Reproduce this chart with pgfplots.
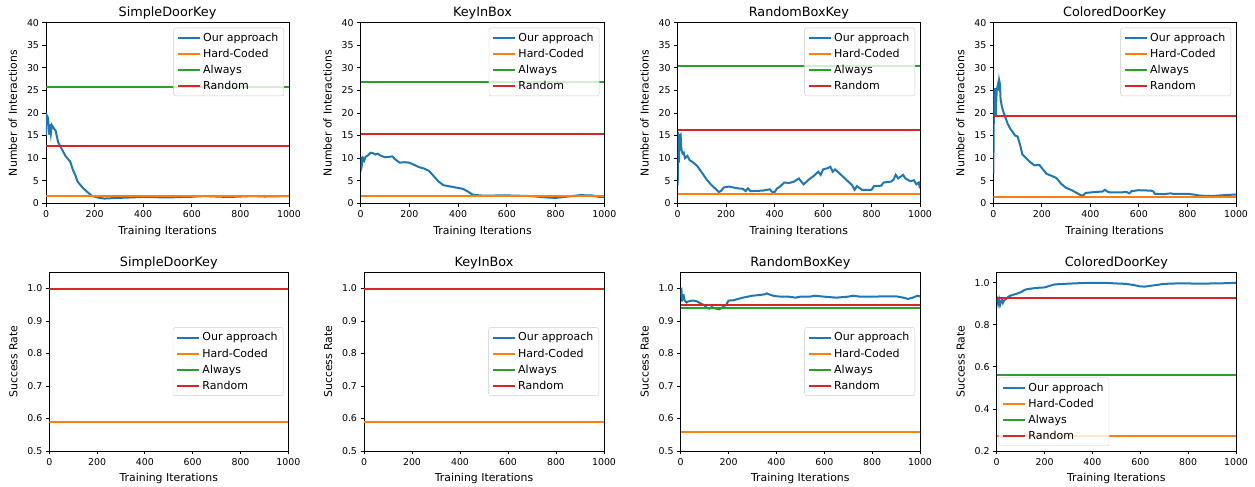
\documentclass[border=0pt]{standalone}
\usepackage{fontspec}
\setmainfont{DejaVu Sans}
\usepackage{pgfplots}
\pgfplotsset{compat=1.18}

\definecolor{cblue}{HTML}{1F77B4}
\definecolor{corange}{HTML}{FF7F0E}
\definecolor{cgreen}{HTML}{2CA02C}
\definecolor{cred}{HTML}{D62728}

\pgfplotsset{
  panel/.style={
    scale only axis,
    xmin=0, xmax=1000,
    xtick={0,200,...,1000},
    tick align=outside,
    tick pos=left,
    major tick length=3.5pt,
    every tick/.style={black, line width=0.9pt},
    axis line style={line width=0.9pt},
    /pgf/number format/assume math mode=true,
    /pgf/number format/1000 sep={},
    tick label style={font=\fontsize{9.4}{10}\selectfont},
    label style={font=\fontsize{10.9}{12}\selectfont},
    xlabel style={yshift=-1.5pt},
    ylabel style={yshift=3pt},
    title style={font=\fontsize{12.8}{14}\selectfont, yshift=-6pt},
    xlabel={Training Iterations},
    legend cell align=left,
    legend style={font=\fontsize{11}{12}\selectfont, draw=black!20,
      rounded corners=2pt, fill=white, fill opacity=0.8, text opacity=1,
      row sep=2.2pt, inner xsep=3.5pt, inner ysep=3pt},
    legend image code/.code={\draw[#1] (0pt,0pt) -- (22pt,0pt);},
    every axis plot/.append style={line width=2pt, no marks},
  },
  toprow/.style={panel, ymin=0, ymax=40, ytick={0,5,...,40},
    ylabel={Number of Interactions}, height=180.6pt,
    legend style={at={(1,1)}, anchor=north east, xshift=-5pt, yshift=-5pt}},
  botrow/.style={panel, ylabel={Success Rate}, ymax=1.05, height=178.7pt,
    yticklabel style={/pgf/number format/fixed, /pgf/number format/fixed zerofill,
      /pgf/number format/precision=1}},
  midright/.style={legend style={at={(1,0.5)}, anchor=east, xshift=-5pt}},
}

\begin{document}
\begin{tikzpicture}
\useasboundingbox (0pt,0pt) rectangle (1255pt,487pt);

% ---------- top row: number of interactions ----------
\begin{axis}[toprow, at={(46pt,283.7pt)}, width=243pt, title={SimpleDoorKey}]
\addplot[cblue] coordinates {
 (0,15) (2,19.6) (8,19) (12,16) (14,15.2) (16,17.5) (20,15.5) (24,17.3) (30,16.8)
 (40,16) (50,13.5) (60,12.5) (70,11.5) (80,10.5) (100,9.2) (110,7.5) (120,6.3)
 (130,4.8) (150,3.5) (170,2.5) (190,1.6) (220,1.2) (240,1.05) (300,1.2) (400,1.4)
 (500,1.3) (600,1.45) (650,1.6) (700,1.5) (750,1.4) (800,1.5) (850,1.6) (900,1.5)
 (1000,1.6)};
\addplot[corange] coordinates {(0,1.6) (1000,1.6)};
\addplot[cgreen] coordinates {(0,25.8) (1000,25.8)};
\addplot[cred] coordinates {(0,12.8) (1000,12.8)};
\legend{Our approach,Hard-Coded,Always,Random}
\end{axis}

\begin{axis}[toprow, at={(360.7pt,283.7pt)}, width=243.6pt, title={KeyInBox}]
\addplot[cblue] coordinates {
 (0,7.6) (2,10.3) (5,8.5) (10,10) (15,9.5) (20,10.3) (30,10.6) (40,11.2) (50,11.1)
 (60,10.8) (70,11) (80,10.6) (100,10.2) (120,10.3) (130,10.4) (140,9.8) (160,9.0)
 (180,9.1) (200,9) (220,8.5) (240,8) (260,7.7) (280,7.2) (300,6) (320,4.8) (340,4)
 (360,3.8) (380,3.6) (400,3.4) (420,3.2) (440,2.6) (460,1.9) (480,1.8) (500,1.7)
 (600,1.75) (700,1.6) (760,1.3) (800,1.2) (850,1.5) (900,1.8) (950,1.75) (980,1.4)
 (1000,1.4)};
\addplot[corange] coordinates {(0,1.6) (1000,1.6)};
\addplot[cgreen] coordinates {(0,26.9) (1000,26.9)};
\addplot[cred] coordinates {(0,15.3) (1000,15.3)};
\legend{Our approach,Hard-Coded,Always,Random}
\end{axis}

\begin{axis}[toprow, at={(677.7pt,283.7pt)}, width=242.3pt, title={RandomBoxKey}]
\addplot[cblue] coordinates {
 (0,4) (2,15.8) (5,9) (8,15) (12,15.2) (15,12) (20,11) (25,11.2) (30,10) (40,10.5)
 (50,9.5) (60,9.2) (80,8.3) (100,6.8) (120,5.2) (140,4) (160,3) (170,2.5) (180,2.8)
 (190,3.5) (210,3.7) (230,3.5) (250,3.3) (270,3.2) (280,2.7) (290,3.3) (300,2.7)
 (350,2.8) (380,3.1) (390,2.5) (400,2.5) (410,3.3) (420,3.6) (440,4.6) (460,4.5)
 (480,4.8) (500,5.5) (510,4.8) (520,4.2) (540,5.2) (560,6) (580,7) (590,6.3)
 (600,7.5) (620,7.8) (630,8.1) (640,7) (650,7.5) (670,6.5) (690,5.5) (720,4.0)
 (730,3.0) (740,3.8) (760,3.0) (800,3.0) (810,3.8) (840,3.9) (850,4.6) (880,4.8)
 (890,5.2) (900,6.3) (910,5.5) (930,6.3) (940,5.5) (960,4.9) (975,5.1) (985,4.2)
 (995,4.6) (1000,3.3)};
\addplot[corange] coordinates {(0,2.0) (1000,2.0)};
\addplot[cgreen] coordinates {(0,30.3) (1000,30.3)};
\addplot[cred] coordinates {(0,16.2) (1000,16.2)};
\legend{Our approach,Hard-Coded,Always,Random}
\end{axis}

\begin{axis}[toprow, at={(993.3pt,283.7pt)}, width=242.7pt, title={ColoredDoorKey}]
\addplot[cblue] coordinates {
 (0,6.5) (3,25) (5,20) (8,25.5) (10,19.5) (14,25) (18,26) (20,25) (24,27.3) (27,26.5)
 (30,23) (35,21.5) (40,20.5) (50,19) (60,17.5) (70,16.5) (80,15.8) (90,15) (100,14.8)
 (110,13) (120,10.8) (130,10.3) (150,9.2) (170,8.4) (190,8.5) (200,7.8) (220,6.5)
 (240,6.1) (260,5.6) (280,4.3) (300,3.4) (320,3) (340,2.4) (360,1.8) (370,1.7)
 (380,2.3) (420,2.5) (450,2.6) (460,3.0) (470,2.6) (480,2.4) (520,2.4) (550,2.5)
 (560,2.2) (570,2.7) (600,2.9) (650,2.8) (660,2.6) (665,2.1) (700,2.0) (730,2.2)
 (740,2.1) (800,2.1) (830,1.9) (850,1.7) (900,1.6) (950,1.8) (1000,1.95)};
\addplot[corange] coordinates {(0,1.4) (1000,1.4)};
\addplot[cgreen] coordinates {(0,48) (1000,48)};
\addplot[cred] coordinates {(0,19.3) (1000,19.3)};
\legend{Our approach,Hard-Coded,Always,Random}
\end{axis}

% ---------- bottom row: success rate ----------
\begin{axis}[botrow, midright, at={(49.3pt,36pt)}, width=239pt, title={SimpleDoorKey},
  ymin=0.5, ytick={0.5,0.6,...,1.0}]
\addplot[cblue] coordinates {(0,1.0) (1000,1.0)};
\addplot[corange] coordinates {(0,0.59) (1000,0.59)};
\addplot[cgreen] coordinates {(0,1.0) (1000,1.0)};
\addplot[cred] coordinates {(0,1.0) (1000,1.0)};
\legend{Our approach,Hard-Coded,Always,Random}
\end{axis}

\begin{axis}[botrow, midright, at={(364pt,36pt)}, width=240pt, title={KeyInBox},
  ymin=0.5, ytick={0.5,0.6,...,1.0}]
\addplot[cblue] coordinates {(0,1.0) (1000,1.0)};
\addplot[corange] coordinates {(0,0.59) (1000,0.59)};
\addplot[cgreen] coordinates {(0,1.0) (1000,1.0)};
\addplot[cred] coordinates {(0,1.0) (1000,1.0)};
\legend{Our approach,Hard-Coded,Always,Random}
\end{axis}

\begin{axis}[botrow, midright, at={(680.7pt,36pt)}, width=239.3pt, title={RandomBoxKey},
  ymin=0.5, ytick={0.5,0.6,...,1.0}]
\addplot[cblue] coordinates {
 (0,1.0) (3,1.0) (5,0.96) (8,0.98) (12,0.98) (16,0.965) (20,0.96) (25,0.957) (30,0.96)
 (40,0.962) (50,0.963) (60,0.962) (70,0.96) (80,0.955) (90,0.952) (100,0.948)
 (110,0.94) (120,0.938) (130,0.943) (140,0.94) (150,0.938) (160,0.936) (170,0.94)
 (180,0.945) (190,0.95) (200,0.963) (220,0.964) (240,0.968) (260,0.972) (280,0.975)
 (300,0.978) (330,0.98) (350,0.982) (360,0.985) (370,0.982) (390,0.977) (420,0.975)
 (450,0.975) (480,0.972) (500,0.975) (540,0.975) (560,0.978) (600,0.975) (650,0.972)
 (700,0.975) (720,0.978) (750,0.975) (800,0.975) (850,0.976) (900,0.976) (930,0.972)
 (950,0.968) (970,0.972) (990,0.978) (1000,0.976)};
\addplot[corange] coordinates {(0,0.56) (1000,0.56)};
\addplot[cgreen] coordinates {(0,0.94) (1000,0.94)};
\addplot[cred] coordinates {(0,0.95) (1000,0.95)};
\legend{Our approach,Hard-Coded,Always,Random}
\end{axis}

\begin{axis}[botrow, at={(996.7pt,36pt)}, width=239.3pt, title={ColoredDoorKey},
  ymin=0.2, ytick={0.2,0.4,...,1.0},
  legend style={at={(0,0)}, anchor=south west, xshift=2pt, yshift=5pt}]
\addplot[cblue] coordinates {
 (0,0.91) (3,0.92) (6,0.90) (10,0.92) (14,0.895) (18,0.91) (22,0.92) (26,0.905)
 (30,0.915) (40,0.925) (50,0.935) (60,0.94) (80,0.947) (100,0.955) (120,0.968)
 (140,0.972) (160,0.975) (180,0.977) (200,0.978) (220,0.985) (240,0.992) (280,0.995)
 (320,0.997) (360,0.999) (400,1.0) (450,1.0) (500,0.997) (540,0.995) (570,0.99)
 (600,0.983) (620,0.982) (650,0.987) (700,0.995) (750,0.997) (800,0.997) (850,0.996)
 (900,0.997) (950,0.998) (1000,1.0)};
\addplot[corange] coordinates {(0,0.27) (1000,0.27)};
\addplot[cgreen] coordinates {(0,0.56) (1000,0.56)};
\addplot[cred] coordinates {(0,0.93) (1000,0.93)};
\legend{Our approach,Hard-Coded,Always,Random}
\end{axis}
\end{tikzpicture}
\end{document}
